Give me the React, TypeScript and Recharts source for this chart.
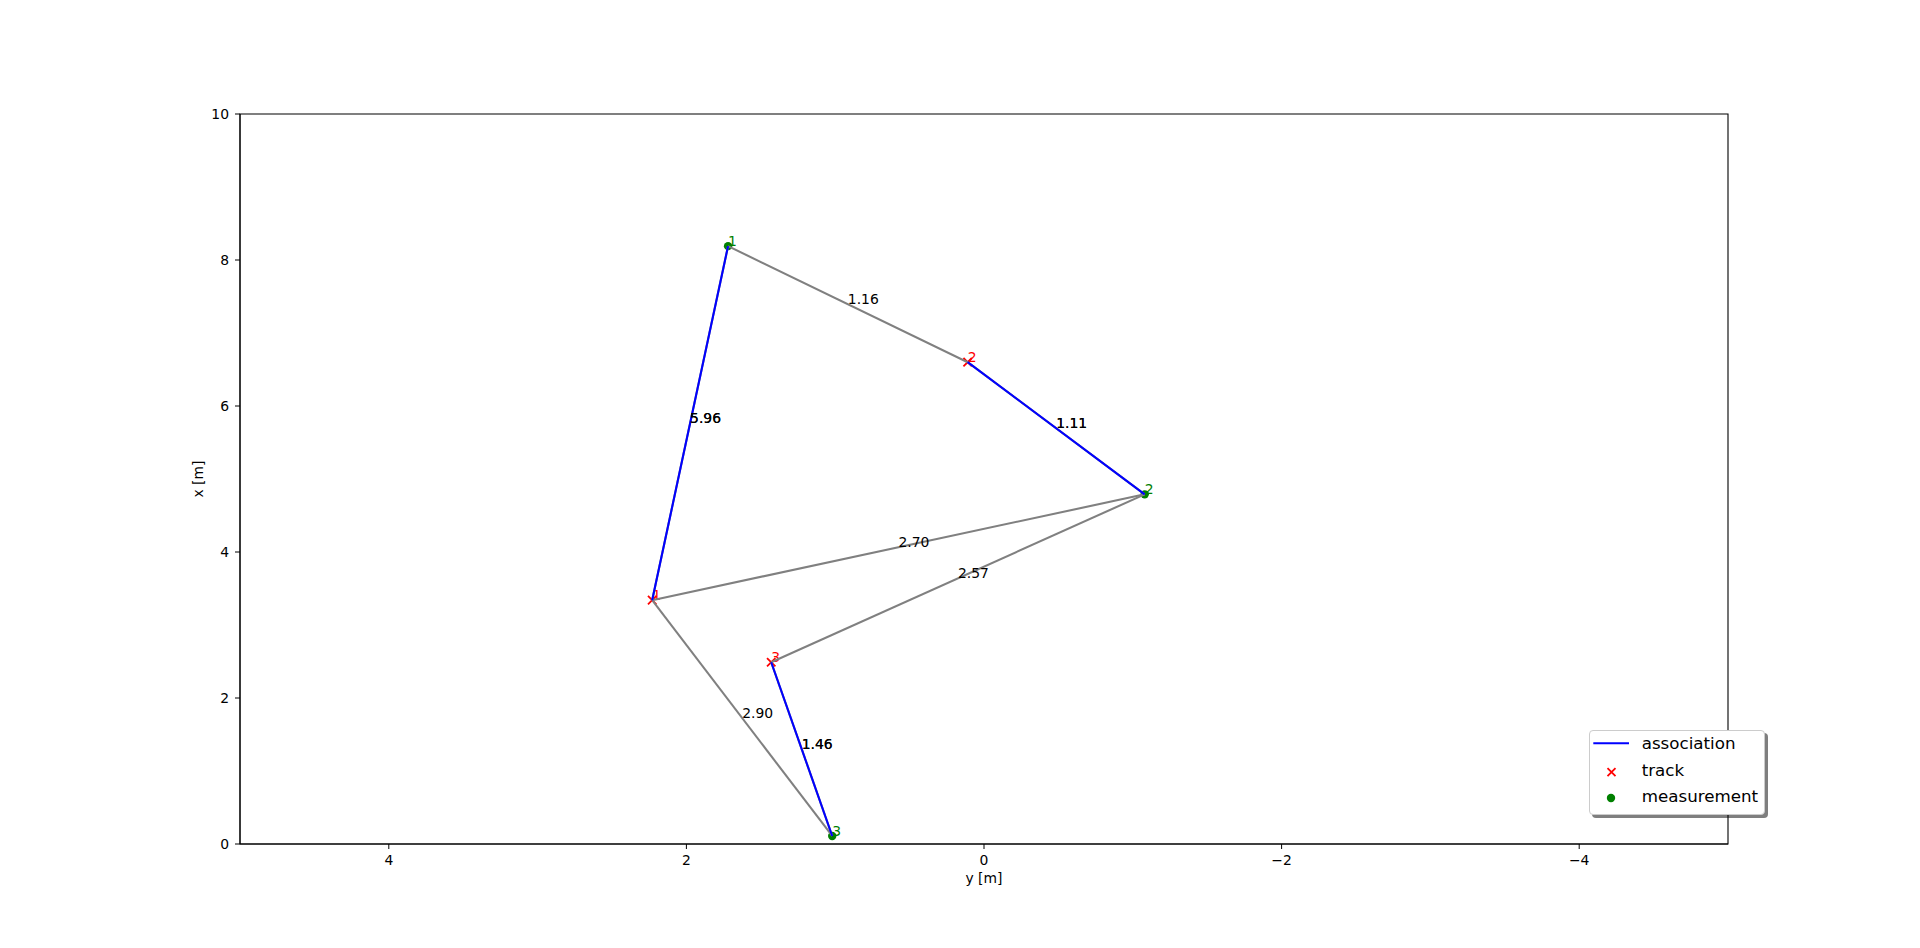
import { Legend, Scatter, ScatterChart, XAxis, YAxis, ReferenceArea } from "recharts";

// horizontal axis shows "y [m]" (reversed), vertical shows "x [m]"
const trackIds = ["1", "2", "3"];
const trackH = [2.23, 0.11, 1.43];
const trackV = [3.34, 6.6, 2.49];

const measIds = ["1", "2", "3"];
const measH = [1.72, -1.08, 1.02];
const measV = [8.19, 4.79, 0.11];

// gated pairs: [track index, measurement index, distance]
const gateTrack = [0, 1, 1, 0, 2, 0, 2];
const gateMeas = [0, 0, 1, 1, 1, 2, 2];
const gateDist = [5.96, 1.16, 1.11, 2.7, 2.57, 2.9, 1.46];

// associations: [track index, measurement index]
const assocTrack = [0, 1, 2];
const assocMeas = [0, 1, 2];

const xTicks = [4, 2, 0, -2, -4];
const yTicks = [0, 2, 4, 6, 8, 10];

const FONT = "'DejaVu Sans', sans-serif";
const FS = 13.9;
const LW = 2.08;

const tracks = trackIds.map((id, i) => ({ h: trackH[i], v: trackV[i], id }));
const meas = measIds.map((id, i) => ({ h: measH[i], v: measV[i], id }));

const gates = gateDist.map((d, i) => ({
  a: tracks[gateTrack[i]],
  b: meas[gateMeas[i]],
  d,
}));
const assocs = assocTrack.map((t, i) => ({
  a: tracks[t],
  b: meas[assocMeas[i]],
  d: gateDist[gateTrack.findIndex((g, k) => g === t && gateMeas[k] === assocMeas[i])],
}));

const midLabels = (list: { a: any; b: any; d: number }[]) =>
  list.map((e) => ({ h: (e.a.h + e.b.h) / 2, v: (e.a.v + e.b.v) / 2, label: e.d.toFixed(2) }));

const Empty = () => <g />;

const TextShape = (props: any) => (
  <text x={props.cx} y={props.cy} fontSize={FS} fontFamily={FONT} fill="#000">
    {props.payload.label}
  </text>
);

const TrackShape = (props: any) => {
  const { cx, cy } = props;
  const r = 4.2;
  return (
    <g>
      <path d={`M${cx - r},${cy - r}L${cx + r},${cy + r}M${cx - r},${cy + r}L${cx + r},${cy - r}`} stroke="#ff0000" strokeWidth={1.8} />
      <text x={cx} y={cy} fontSize={FS} fontFamily={FONT} fill="#ff0000">
        {props.payload.id}
      </text>
    </g>
  );
};

const MeasShape = (props: any) => {
  const { cx, cy } = props;
  return (
    <g>
      <circle cx={cx} cy={cy} r={4.2} fill="#008000" />
      <text x={cx} y={cy} fontSize={FS} fontFamily={FONT} fill="#008000">
        {props.payload.id}
      </text>
    </g>
  );
};

const renderLegend = () => (
  <div
    style={{
      width: 176,
      height: 85,
      boxSizing: "border-box",
      border: "1px solid #cccccc",
      borderRadius: 4,
      background: "#fff",
      boxShadow: "3px 3px 0 rgba(0,0,0,0.5)",
    }}
  >
    <svg width={174} height={83} style={{ display: "block" }}>
      <line x1={3.3} x2={39} y1={12.3} y2={12.3} stroke="#0000ff" strokeWidth={LW} />
      <path d="M17.5,37.2L25.5,45.2M17.5,45.2L25.5,37.2" stroke="#ff0000" strokeWidth={1.8} />
      <circle cx={21} cy={67} r={4.2} fill="#008000" />
      <g fontFamily={FONT} fontSize={16.7} fill="#000">
        <text x={51.7} y={18}>association</text>
        <text x={51.7} y={44.7}>track</text>
        <text x={51.7} y={71.3}>measurement</text>
      </g>
    </svg>
  </div>
);

export default function App() {
  return (
    <div style={{ position: "absolute", left: 0, top: 0, width: 1920, height: 948, background: "#fff" }}>
      <ScatterChart width={1920} height={948} margin={{ top: 114, right: 192, bottom: 64, left: 180 }}>
        <XAxis
          type="number"
          dataKey="h"
          domain={[-5, 5]}
          reversed
          ticks={xTicks}
          allowDataOverflow
          height={40}
          stroke="#000"
          tickSize={5}
          tickMargin={6}
          tick={{ fill: "#000", fontSize: FS, fontFamily: FONT }}
          tickFormatter={(v: number) => (v < 0 ? "\u2212" + Math.abs(v) : String(v))}
          label={{
            content: (p: any) => (
              <text
                x={p.viewBox.x + p.viewBox.width / 2}
                y={p.viewBox.y + 39}
                textAnchor="middle"
                fontSize={FS}
                fontFamily={FONT}
                fill="#000"
              >
                y [m]
              </text>
            ),
          }}
        />
        <YAxis
          type="number"
          dataKey="v"
          domain={[0, 10]}
          ticks={yTicks}
          allowDataOverflow
          width={60}
          stroke="#000"
          tickSize={5}
          tickMargin={6}
          tick={{ fill: "#000", fontSize: FS, fontFamily: FONT }}
          label={{
            content: (p: any) => {
              const x = p.viewBox.x + 18;
              const y = p.viewBox.y + p.viewBox.height / 2;
              return (
                <text
                  x={x}
                  y={y}
                  transform={`rotate(-90, ${x}, ${y})`}
                  textAnchor="middle"
                  dominantBaseline="central"
                  fontSize={FS}
                  fontFamily={FONT}
                  fill="#000"
                >
                  x [m]
                </text>
              );
            },
          }}
        />
        <ReferenceArea x1={-5} x2={5} y1={0} y2={10} fill="none" stroke="#000" strokeWidth={1.1} />
        <Scatter data={tracks} shape={TrackShape} isAnimationActive={false} />
        <Scatter data={meas} shape={MeasShape} isAnimationActive={false} />
        {gates.map((e, i) => (
          <Scatter
            key={"g" + i}
            data={[e.a, e.b]}
            line={{ stroke: "#808080", strokeWidth: LW }}
            shape={Empty}
            isAnimationActive={false}
          />
        ))}
        {assocs.map((e, i) => (
          <Scatter
            key={"a" + i}
            data={[e.a, e.b]}
            line={{ stroke: "#0000ff", strokeWidth: LW }}
            shape={Empty}
            isAnimationActive={false}
          />
        ))}
        <Scatter data={midLabels(gates)} shape={TextShape} isAnimationActive={false} />
        <Scatter data={midLabels(assocs)} shape={TextShape} isAnimationActive={false} />
        <Legend
          layout="horizontal"
          verticalAlign="middle"
          align="center"
          content={renderLegend}
          wrapperStyle={{ left: 1589, top: 730, width: 176, height: 85 }}
        />
      </ScatterChart>
    </div>
  );
}
